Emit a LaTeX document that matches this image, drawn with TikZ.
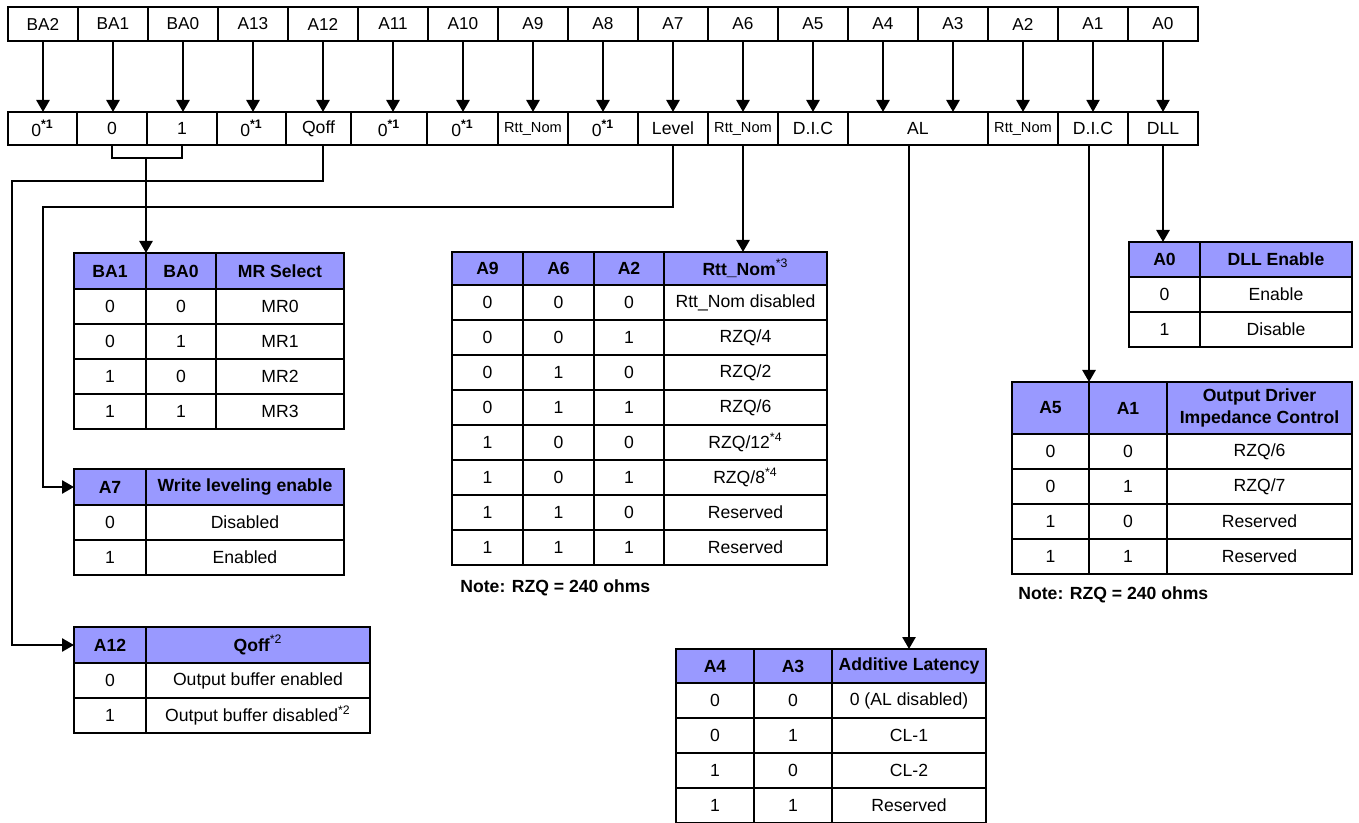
\documentclass[tikz,border=0pt]{standalone}
\usepackage{fontspec}
\setmainfont{Liberation Sans}
\usetikzlibrary{arrows.meta}

\definecolor{hdrblue}{RGB}{153,153,255}
\newcommand{\starone}{\textsuperscript{\textbf{*1}}}
\newcommand{\rttsmall}{{\fontsize{7.3}{8}\selectfont Rtt\_Nom}}

\tikzset{
  bit/.style={draw, line width=1.4pt, anchor=north west, outer sep=0pt, inner sep=0pt,
    minimum width=35pt, minimum height=17pt, font=\fontsize{8.6}{10}\selectfont},
  cell/.style={draw, line width=1.1pt, anchor=north west, outer sep=0pt, inner sep=0pt,
    minimum height=17.5pt, font=\fontsize{8.8}{10}\selectfont},
  head/.style={cell, fill=hdrblue, font=\fontsize{8.8}{11}\selectfont\bfseries},
  arr/.style={line width=1.3pt, -{Triangle[width=6.5pt,length=6pt]}},
  link/.style={line width=1.2pt},
  note/.style={anchor=west, inner sep=0pt, font=\fontsize{8.8}{10}\selectfont\bfseries},
}

\begin{document}
\begin{tikzpicture}[x=0.5pt, y=-0.5pt]
\useasboundingbox (0,0) rectangle (1359,823);

% address bits
\foreach \lab [count=\i] in {BA2,BA1,BA0,A13,A12,A11,A10,A9,A8,A7,A6,A5,A4,A3,A2,A1,A0}
  \node[bit] (t\i) at ({8+70*(\i-1)},7) {\lab};

% register fields
\foreach \xa/\xb/\nm/\lab in {8/77/ba2v/{0\starone}, 77/147/ba1v/0, 147/217/ba0v/1,
    217/286/a13v/{0\starone}, 286/351/qoff/Qoff, 351/427/a11v/{0\starone},
    427/498/a10v/{0\starone}, 498/568/a9v/\rttsmall, 568/638/a8v/{0\starone},
    638/708/level/Level, 708/778/a6v/\rttsmall, 778/848/a5v/D.I.C, 848/988/al/AL,
    988/1058/a2v/\rttsmall, 1058/1128/a1v/D.I.C, 1128/1198/dll/DLL}
  \node[cell, line width=1.3pt, minimum width={(\xb-\xa)*0.5pt}, minimum height=16.5pt] (\nm) at (\xa,112) {\lab};

\foreach \i in {1,...,15}
  \draw[arr] (t\i.south) -- (t\i.south |- ba2v.north);
\foreach \i in {16,17}
  \draw[arr, line width=0.9pt] (t\i.south) -- (t\i.south |- ba2v.north);

% MR select
\node[head, minimum width=36pt, minimum height=18pt] (mh1) at (74,253) {BA1};
\node[head, minimum width=35pt, minimum height=18pt] (mh2) at (146,253) {BA0};
\node[head, minimum width=64pt, minimum height=18pt] (mh3) at (216,253) {MR Select};
\foreach \a/\b/\c [count=\i] in {0/0/MR0, 0/1/MR1, 1/0/MR2, 1/1/MR3} {
  \node[cell, minimum width=36pt] (m\i-1) at (74,{289+35*(\i-1)}) {\a};
  \node[cell, minimum width=35pt] (m\i-2) at (146,{289+35*(\i-1)}) {\b};
  \node[cell, minimum width=64pt] (m\i-3) at (216,{289+35*(\i-1)}) {\c};
}

% write leveling
\node[head, minimum width=36pt, minimum height=18pt] (wh1) at (74,469) {A7};
\node[head, minimum width=99pt, minimum height=18pt] (wh2) at (146,469) {Write leveling enable};
\foreach \a/\b [count=\i] in {0/Disabled, 1/Enabled} {
  \node[cell, minimum width=36pt] (w\i-1) at (74,{505+35*(\i-1)}) {\a};
  \node[cell, minimum width=99pt] (w\i-2) at (146,{505+35*(\i-1)}) {\b};
}

% Qoff
\node[head, minimum width=36pt, minimum height=18pt] (qh1) at (74,627) {A12};
\node[head, minimum width=112pt, minimum height=18pt] (qh2) at (146,627) {Qoff\textsuperscript{\normalfont *2}};
\foreach \a/\b [count=\i] in {0/{Output buffer enabled}, 1/{Output buffer disabled\textsuperscript{*2}}} {
  \node[cell, minimum width=36pt] (q\i-1) at (74,{663+35*(\i-1)}) {\a};
  \node[cell, minimum width=112pt] (q\i-2) at (146,{663+35*(\i-1)}) {\b};
}

% Rtt_Nom
\node[head, minimum width=35.5pt, minimum height=16.5pt] (rh1) at (452,252) {A9};
\node[head, minimum width=35.5pt, minimum height=16.5pt] (rh2) at (523,252) {A6};
\node[head, minimum width=35pt, minimum height=16.5pt] (rh3) at (594,252) {A2};
\node[head, minimum width=81.5pt, minimum height=16.5pt] (rh4) at (664,252) {Rtt\_Nom\textsuperscript{\normalfont *3}};
\foreach \a/\b/\c/\d [count=\i] in {0/0/0/{Rtt\_Nom disabled}, 0/0/1/{RZQ/4}, 0/1/0/{RZQ/2},
    0/1/1/{RZQ/6}, 1/0/0/{RZQ/12\textsuperscript{*4}}, 1/0/1/{RZQ/8\textsuperscript{*4}},
    1/1/0/Reserved, 1/1/1/Reserved} {
  \node[cell, minimum width=35.5pt] (r\i-1) at (452,{285+35*(\i-1)}) {\a};
  \node[cell, minimum width=35.5pt] (r\i-2) at (523,{285+35*(\i-1)}) {\b};
  \node[cell, minimum width=35pt] (r\i-3) at (594,{285+35*(\i-1)}) {\c};
  \node[cell, minimum width=81.5pt] (r\i-4) at (664,{285+35*(\i-1)}) {\d};
}
\node[note] (rnote) at (460,588) {Note: RZQ = 240 ohms};

% DLL
\node[head, minimum width=35.5pt] (dh1) at (1129,242) {A0};
\node[head, minimum width=76pt] (dh2) at (1200,242) {DLL Enable};
\foreach \a/\b [count=\i] in {0/Enable, 1/Disable} {
  \node[cell, minimum width=35.5pt] (d\i-1) at (1129,{277+35*(\i-1)}) {\a};
  \node[cell, minimum width=76pt] (d\i-2) at (1200,{277+35*(\i-1)}) {\b};
}

% output driver
\node[head, minimum width=38.5pt, minimum height=26pt] (oh1) at (1012,382) {A5};
\node[head, minimum width=39pt, minimum height=26pt] (oh2) at (1089,382) {A1};
\node[head, minimum width=92.5pt, minimum height=26pt, align=center] (oh3) at (1167,382) {Output Driver\\Impedance Control};
\foreach \a/\b/\c [count=\i] in {0/0/{RZQ/6}, 0/1/{RZQ/7}, 1/0/Reserved, 1/1/Reserved} {
  \node[cell, minimum width=38.5pt] (o\i-1) at (1012,{434+35*(\i-1)}) {\a};
  \node[cell, minimum width=39pt] (o\i-2) at (1089,{434+35*(\i-1)}) {\b};
  \node[cell, minimum width=92.5pt] (o\i-3) at (1167,{434+35*(\i-1)}) {\c};
}
\node[note] (onote) at (1018,595) {Note: RZQ = 240 ohms};

% additive latency
\node[head, minimum width=39pt, minimum height=17pt] (ah1) at (676,649) {A4};
\node[head, minimum width=39pt, minimum height=17pt] (ah2) at (754,649) {A3};
\node[head, minimum width=77pt, minimum height=17pt] (ah3) at (832,649) {Additive Latency};
\foreach \a/\b/\c [count=\i] in {0/0/{0 (AL disabled)}, 0/1/CL-1, 1/0/CL-2, 1/1/Reserved} {
  \node[cell, minimum width=39pt] (a\i-1) at (676,{683+35*(\i-1)}) {\a};
  \node[cell, minimum width=39pt] (a\i-2) at (754,{683+35*(\i-1)}) {\b};
  \node[cell, minimum width=77pt] (a\i-3) at (832,{683+35*(\i-1)}) {\c};
}

% connectors
\coordinate (bj) at (146,158);
\draw[link] (ba1v.south) |- (bj) -| (ba0v.south);
\draw[arr] (bj) -- (mh1.north east);
\draw[arr] (t5.south |- qoff.south) |- (12,181) |- (qh1.west);
\draw[arr] (level.south) |- (43,207) |- (wh1.west);
\draw[arr] (a6v.south) -- (a6v.south |- rh4.north);
\draw[arr] (al.south -| ah3.north) -- (ah3.north);
\draw[arr] (a1v.south -| oh1.north east) -- (oh1.north east);
\draw[arr] (dll.south) -- (dll.south |- dh1.north);
\end{tikzpicture}
\end{document}
